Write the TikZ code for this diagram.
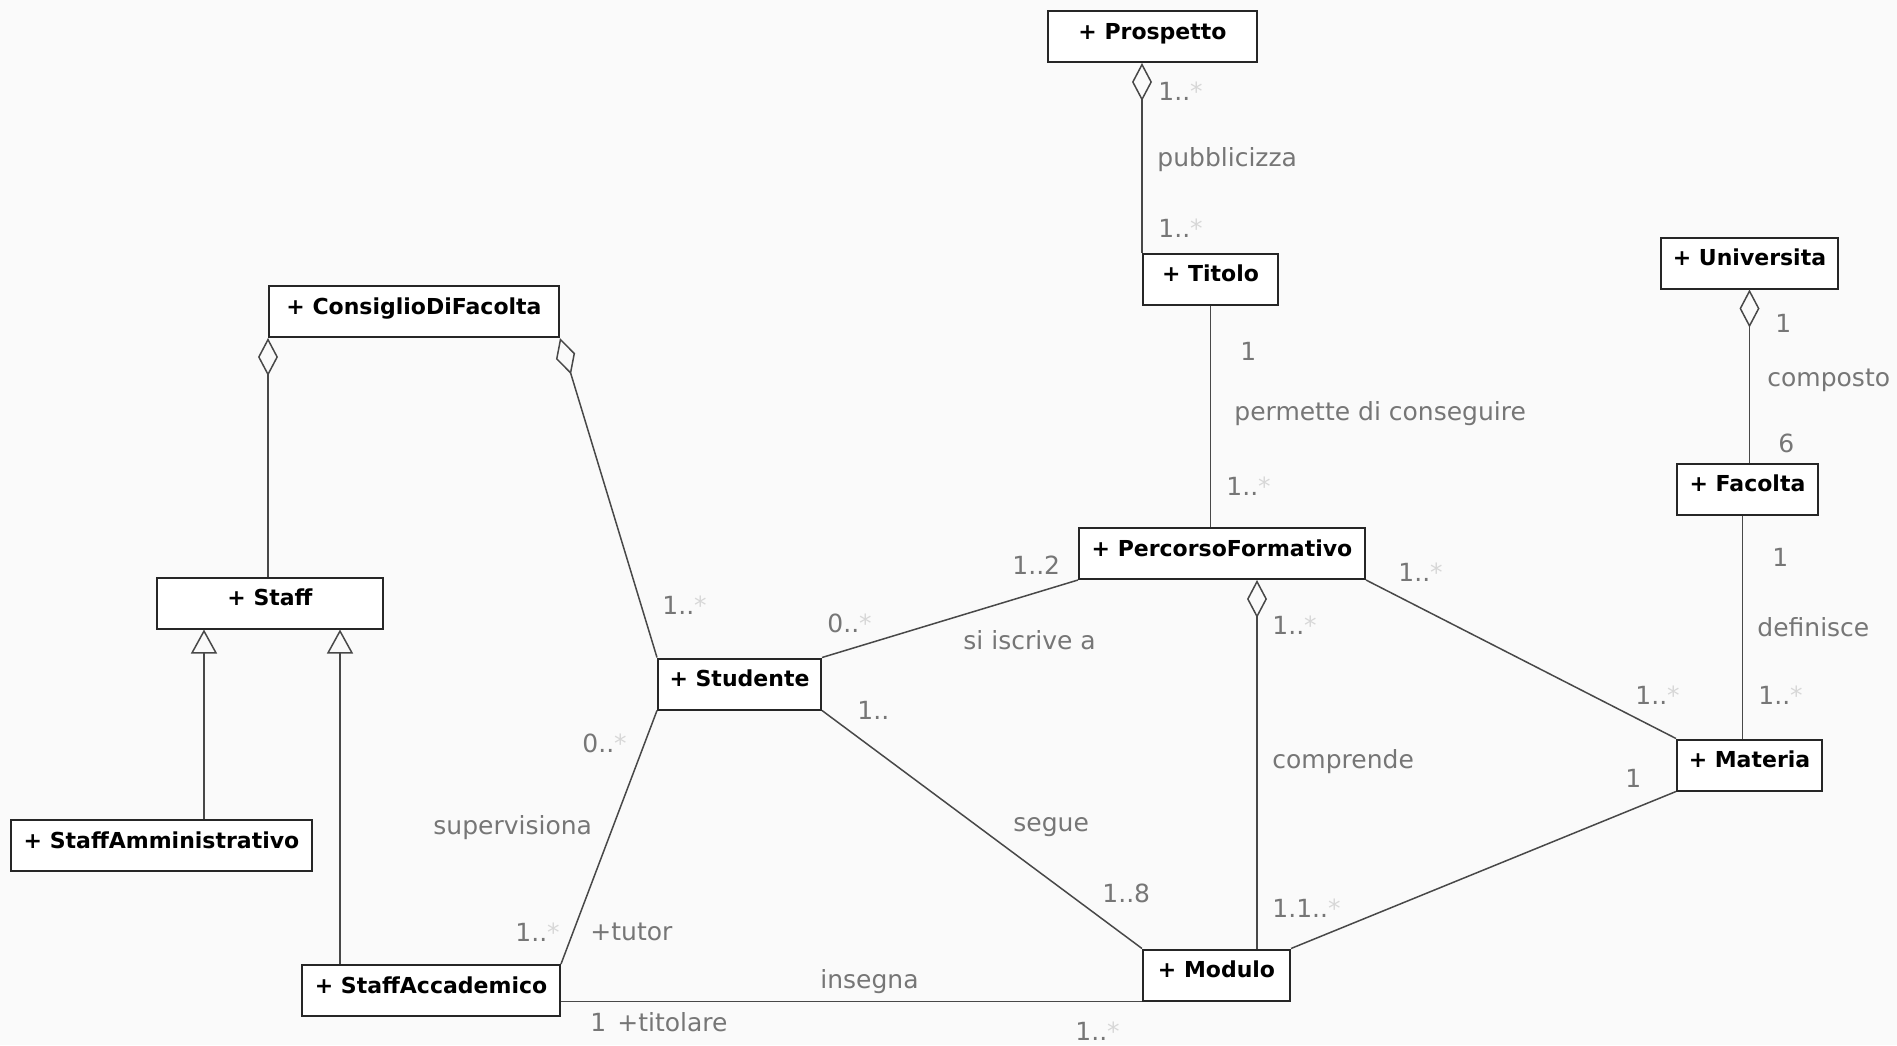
\documentclass[tikz,border=0pt]{standalone}
\usepackage{fontspec}
\setmainfont{DejaVu Sans}
\usetikzlibrary{arrows.meta}

\definecolor{bg}{RGB}{250,250,250}
\definecolor{lbl}{RGB}{118,118,118}
\definecolor{edge}{RGB}{72,72,72}
\definecolor{star}{RGB}{215,215,215}
% faint multiplicity star
\newcommand{\mstar}{\textcolor{star}{*}}

\tikzset{
  cls/.style={draw=black!85, line width=1pt, fill=white, inner sep=0pt,
    minimum height=25.5pt, text height=14pt, text depth=11.5pt,
    font=\bfseries\fontsize{11}{13}\selectfont},
  lab/.style={anchor=west, inner sep=0pt, text=lbl,
    font=\fontsize{12.5}{14}\selectfont},
  assoc/.style={draw=edge, line width=0.75pt},
  agg/.style={assoc, {Diamond[open, length=19pt, width=10pt]}-},
  gen/.style={assoc, {Triangle[open, length=12pt, width=13pt]}-},
}

\begin{document}
\begin{tikzpicture}[x=0.5pt, y=-0.5pt]
  \fill[bg] (0,0) rectangle (1897,1045);
  \useasboundingbox (0,0) rectangle (1897,1045);

  % classes
  \node[cls, minimum width=104.5pt] (prospetto)  at (1152.5,36.5) {+ Prospetto};
  \node[cls, minimum width=67.5pt]  (titolo)     at (1210.5,279)  {+ Titolo};
  \node[cls, minimum width=145pt]   (consiglio)  at (414,311.5)   {+ ConsiglioDiFacolta};
  \node[cls, minimum width=113pt]   (staff)      at (270,603)     {+ Staff};
  \node[cls, minimum width=150.5pt] (staffamm)   at (161.5,845.5) {+ StaffAmministrativo};
  \node[cls, minimum width=129pt]   (staffacc)   at (431,990.5)   {+ StaffAccademico};
  \node[cls, minimum width=81.5pt]  (studente)   at (739.5,684)   {+ Studente};
  \node[cls, minimum width=143pt]   (percorso)   at (1222,553.5)  {+ PercorsoFormativo};
  \node[cls, minimum width=88.5pt]  (universita) at (1749.5,263)  {+ Universita};
  \node[cls, minimum width=70.5pt]  (facolta)    at (1747.5,489)  {+ Facolta};
  \node[cls, minimum width=72.5pt]  (materia)    at (1749.5,765)  {+ Materia};
  \node[cls, minimum width=73.5pt]  (modulo)     at (1216.5,975)  {+ Modulo};

  % aggregations
  \draw[agg] (titolo.north west |- prospetto.south) -- (titolo.north west);
  \draw[agg] (consiglio.south west) -- (consiglio.south west |- staff.north);
  \draw[agg] (consiglio.south east) -- (studente.north west);
  \draw[agg] ([xshift=17.5pt]percorso.south) -- ([xshift=17.5pt]percorso.south |- modulo.north);
  \draw[agg] (universita.south) -- (universita.south |- facolta.north);

  % generalizations
  \draw[gen] ([xshift=24pt]staff.south west) -- ([xshift=24pt]staff.south west |- staffamm.north);
  \draw[gen] ([xshift=-22pt]staff.south east) -- ([xshift=-22pt]staff.south east |- staffacc.north);

  % plain associations
  \draw[assoc] (titolo.south) -- (titolo.south |- percorso.north);
  \draw[assoc] (studente.south west) -- (staffacc.north east);
  \draw[assoc] (staffacc.east |- modulo.south west) -- (modulo.south west);
  \draw[assoc] (studente.south east) -- (modulo.north west);
  \draw[assoc] (studente.north east) -- (percorso.south west);
  \draw[assoc] (percorso.south east) -- (materia.north west);
  \draw[assoc] (modulo.north east) -- (materia.south west);
  \draw[assoc] ([xshift=-2.5pt]facolta.south) -- ([xshift=-2.5pt]facolta.south |- materia.north);

  % Prospetto - Titolo
  \node[lab] (m1)  at (1158,91)  {1..\mstar};
  \node[lab] (a1)  at (1157,160) {pubblicizza};
  \node[lab] (m2)  at (1158,228) {1..\mstar};
  % Titolo - PercorsoFormativo
  \node[lab] (m3)  at (1240,351) {1};
  \node[lab] (a2)  at (1234,414) {permette di conseguire};
  \node[lab] (m4)  at (1226,486) {1..\mstar};
  % Universita - Facolta
  \node[lab] (m5)  at (1775,323) {1};
  \node[lab] (a3)  at (1767,380) {composto};
  \node[lab] (m6)  at (1778,443) {6};
  % Facolta - Materia
  \node[lab] (m7)  at (1772,557) {1};
  \node[lab] (a4)  at (1757,627) {definisce};
  \node[lab] (m8)  at (1758,695) {1..\mstar};
  % PercorsoFormativo - Materia
  \node[lab] (m9)  at (1398,572) {1..\mstar};
  \node[lab] (m10) at (1635,695) {1..\mstar};
  % Modulo - Materia
  \node[lab] (m11) at (1625,778) {1};
  % PercorsoFormativo - Modulo
  \node[lab] (m12) at (1272,625) {1..\mstar};
  \node[lab] (a5)  at (1272,762) {comprende};
  \node[lab] (m13) at (1272,908) {1.1..\mstar};
  % Studente - Modulo
  \node[lab] (m14) at (857,710)  {1..};
  \node[lab] (a6)  at (1013,827) {segue};
  \node[lab] (m15) at (1102,893) {1..8};
  % Studente - PercorsoFormativo
  \node[lab] (m16) at (827,623)  {0..\mstar};
  \node[lab] (m17) at (1012,565) {1..2};
  \node[lab] (a7)  at (963,640)  {si iscrive a};
  % ConsiglioDiFacolta - Studente
  \node[lab] (m18) at (662,605)  {1..\mstar};
  % Studente - StaffAccademico
  \node[lab] (m19) at (582,743)  {0..\mstar};
  \node[lab] (a8)  at (433,828)  {supervisiona};
  \node[lab] (m20) at (515,932)  {1..\mstar};
  \node[lab] (r1)  at (590,932)  {+tutor};
  % StaffAccademico - Modulo
  \node[lab] (a9)  at (820,982)  {insegna};
  \node[lab] (m21) at (590,1022) {1};
  \node[lab] (r2)  at (617,1022) {+titolare};
  \node[lab] (m22) at (1075,1031) {1..\mstar};
\end{tikzpicture}
\end{document}
